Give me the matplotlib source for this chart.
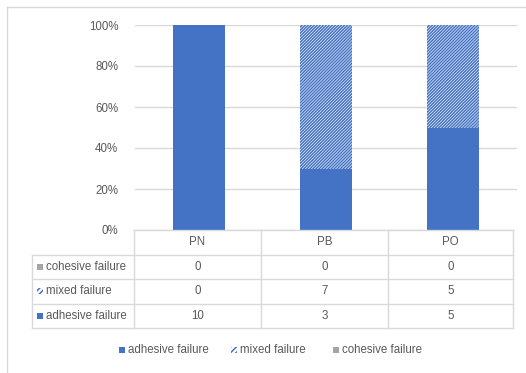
import matplotlib
matplotlib.use("Agg")
import matplotlib.pyplot as plt
from matplotlib.lines import Line2D
from matplotlib.patches import Rectangle
import numpy as np

categories = ["PN", "PB", "PO"]
adhesive = [10, 3, 5]
mixed = [0, 7, 5]
cohesive = [0, 0, 0]
series_names = ["adhesive failure", "mixed failure", "cohesive failure"]
yticks = [0, 0.2, 0.4, 0.6, 0.8, 1.0]
ytick_labels = ["0%", "20%", "40%", "60%", "80%", "100%"]

plt.rcParams['font.family'] = ['Liberation Sans', 'DejaVu Sans']
plt.rcParams['hatch.linewidth'] = 1.1

W, H = 526, 373
fig = plt.figure(figsize=(W / 100, H / 100), dpi=100)
TXT = "#595959"
GRID = "#D9D9D9"
BLUE = "#4472C4"
GRAY = "#A5A5A5"
FS = 8.3
HATCH = "/" * 11

def fx(px):
    return px / W

def fy(py):
    return 1 - py / H

# outer chart border (left/top visible)
fig.add_artist(Line2D([fx(7), fx(7)], [fy(7), 0], color=GRID, lw=1))
fig.add_artist(Line2D([fx(7), 1], [fy(7), fy(7)], color=GRID, lw=1))

ax_l, ax_r, ax_t, ax_b = 135, 517, 25, 230
ax = fig.add_axes([fx(ax_l), fy(ax_b), (ax_r - ax_l) / W, (ax_b - ax_t) / H])

a = np.array(adhesive, float)
m = np.array(mixed, float)
c = np.array(cohesive, float)
tot = a + m + c
pa, pm, pc = a / tot, m / tot, c / tot
x = np.arange(len(categories))
bw = 0.41
ax.bar(x, pa, bw, color=BLUE, lw=0, zorder=3)
ax.bar(x, pm, bw, bottom=pa, facecolor="white", edgecolor=BLUE, hatch=HATCH, lw=0, zorder=3)
ax.bar(x, pc, bw, bottom=pa + pm, color=GRAY, lw=0, zorder=3)

ax.set_xlim(-0.5, len(categories) - 0.5)
ax.set_ylim(0, 1)
ax.set_yticks(yticks)
ax.set_yticklabels(ytick_labels, color=TXT, fontsize=FS)
ax.tick_params(axis="y", length=0, pad=12)
ax.set_xticks([])
for s in ax.spines.values():
    s.set_visible(False)
ax.grid(axis="y", color=GRID, lw=1, zorder=0)
ax.set_axisbelow(True)

# data table
col_edges = [134, 261, 388, 513]
row_edges = [230, 254.5, 279, 303.5, 328]
lab_left = 32
fig.add_artist(Line2D([fx(col_edges[0]), fx(col_edges[-1])], [fy(row_edges[0])] * 2, color=GRID, lw=1))
for r in row_edges[1:]:
    fig.add_artist(Line2D([fx(lab_left), fx(col_edges[-1])], [fy(r)] * 2, color=GRID, lw=1))
for cx in col_edges:
    fig.add_artist(Line2D([fx(cx)] * 2, [fy(row_edges[0]), fy(row_edges[-1])], color=GRID, lw=1))
fig.add_artist(Line2D([fx(lab_left)] * 2, [fy(row_edges[1]), fy(row_edges[-1])], color=GRID, lw=1))

centers = [(col_edges[i] + col_edges[i + 1]) / 2 for i in range(len(categories))]
for i, cat in enumerate(categories):
    fig.text(fx(centers[i]), fy((row_edges[0] + row_edges[1]) / 2), cat,
             ha="center", va="center", color=TXT, fontsize=FS)

rows = [(series_names[2], cohesive, "solid", GRAY),
        (series_names[1], mixed, "hatch", BLUE),
        (series_names[0], adhesive, "solid", BLUE)]

def marker(px, pycenter, kind, color, size=6):
    x0 = fx(px)
    y0 = fy(pycenter + size / 2)
    if kind == "solid":
        fig.add_artist(Rectangle((x0, y0), size / W, size / H, transform=fig.transFigure,
                                 facecolor=color, lw=0))
    else:
        fig.add_artist(Rectangle((x0, y0), size / W, size / H, transform=fig.transFigure,
                                 facecolor="white", edgecolor=color, hatch="/" * 6, lw=0))

for k, (name, vals, kind, color) in enumerate(rows):
    yc = (row_edges[k + 1] + row_edges[k + 2]) / 2
    marker(37, yc, kind, color)
    fig.text(fx(46), fy(yc), name, ha="left", va="center", color=TXT, fontsize=FS)
    for i, v in enumerate(vals):
        fig.text(fx(centers[i]), fy(yc), str(v), ha="center", va="center", color=TXT, fontsize=FS)

# legend
leg_y = 350
leg_items = [(series_names[0], "solid", BLUE, 119),
             (series_names[1], "hatch", BLUE, 231),
             (series_names[2], "solid", GRAY, 333)]
for name, kind, color, px in leg_items:
    marker(px, leg_y, kind, color)
    fig.text(fx(px + 9), fy(leg_y), name, ha="left", va="center", color=TXT, fontsize=FS)

fig.savefig("out.png", dpi=100)
